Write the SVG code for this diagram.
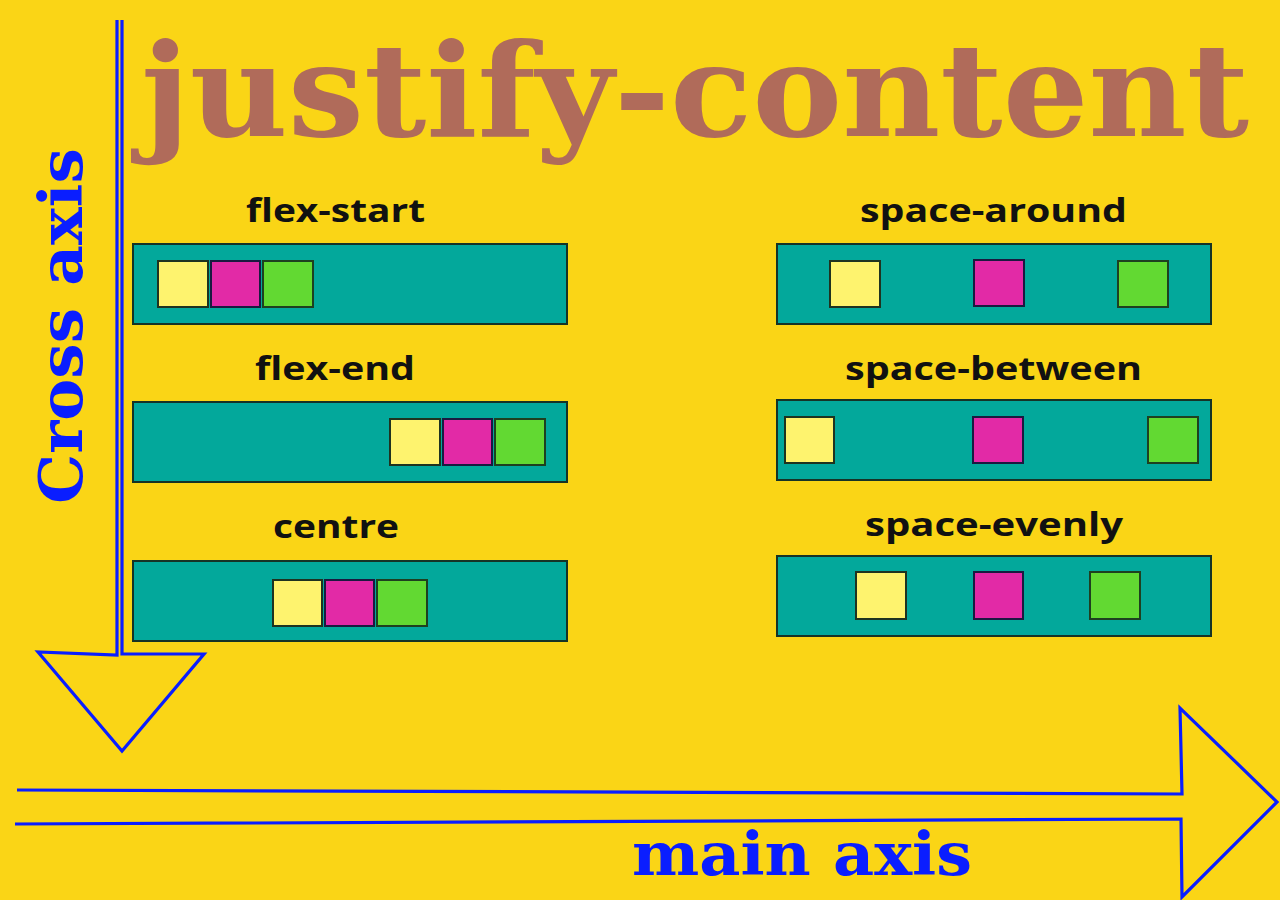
<svg xmlns="http://www.w3.org/2000/svg" width="1280" height="900" viewBox="0 0 1280 900">
  <style>
    .bg { fill: #FAD516; }
    .title { font-family: "DejaVu Serif", "Liberation Serif", serif; font-weight: bold; fill: #B06B5A; }
    .axis { font-family: "DejaVu Serif", "Liberation Serif", serif; font-weight: bold; fill: #0A1EFF; }
    .label { font-family: "Open Sans", "Liberation Sans", sans-serif; font-weight: bold; fill: #111111; font-size: 32px; }
    .box { fill: #03A89B; stroke: #163326; stroke-width: 2; }
    .y { fill: #FEF36E; stroke: #1E3320; stroke-width: 2; }
    .p { fill: #E22AA6; stroke: #1A1A40; stroke-width: 2; }
    .g { fill: #62D932; stroke: #1E4020; stroke-width: 2; }
    .arrow { fill: none; stroke: #0A1EFF; stroke-width: 3.2; stroke-linejoin: miter; }
  </style>
  <rect class="bg" x="0" y="0" width="1280" height="900"/>

  <g id="title">
    <text class="title" x="141" y="136" font-size="130" textLength="1108" lengthAdjust="spacingAndGlyphs">justify-content</text>
  </g>

  <g id="connectors">
    <path class="arrow" d="M117,20 L117,655 L38,652 L122,751 L204,654 L122,654 L122,20"/>
    <path class="arrow" d="M17,790 L1182,794 L1180,708 L1277,802 L1182,897 L1181,819 L15,824"/>
  </g>

  <g id="cross-axis-label">
    <text class="axis" transform="translate(82,504) rotate(-90)" x="0" y="0" font-size="60" textLength="356" lengthAdjust="spacingAndGlyphs">Cross axis</text>
  </g>
  <g id="main-axis-label">
    <text class="axis" x="632" y="875" font-size="60" textLength="340" lengthAdjust="spacingAndGlyphs">main axis</text>
  </g>

  <g id="flex-start">
    <text class="label" x="246" y="222" textLength="179" lengthAdjust="spacingAndGlyphs">flex-start</text>
    <rect class="box" x="133" y="244" width="434" height="80"/>
    <rect class="y" x="158" y="261" width="50" height="46"/>
    <rect class="p" x="211" y="261" width="49" height="46"/>
    <rect class="g" x="263" y="261" width="50" height="46"/>
  </g>

  <g id="flex-end">
    <text class="label" x="255" y="380" textLength="160" lengthAdjust="spacingAndGlyphs">flex-end</text>
    <rect class="box" x="133" y="402" width="434" height="80"/>
    <rect class="y" x="390" y="419" width="50" height="46"/>
    <rect class="p" x="443" y="419" width="49" height="46"/>
    <rect class="g" x="495" y="419" width="50" height="46"/>
  </g>

  <g id="centre">
    <text class="label" x="273" y="538" textLength="126" lengthAdjust="spacingAndGlyphs">centre</text>
    <rect class="box" x="133" y="561" width="434" height="80"/>
    <rect class="y" x="273" y="580" width="49" height="46"/>
    <rect class="p" x="325" y="580" width="49" height="46"/>
    <rect class="g" x="377" y="580" width="50" height="46"/>
  </g>

  <g id="space-around">
    <text class="label" x="860" y="222" textLength="267" lengthAdjust="spacingAndGlyphs">space-around</text>
    <rect class="box" x="777" y="244" width="434" height="80"/>
    <rect class="y" x="830" y="261" width="50" height="46"/>
    <rect class="p" x="974" y="260" width="50" height="46"/>
    <rect class="g" x="1118" y="261" width="50" height="46"/>
  </g>

  <g id="space-between">
    <text class="label" x="845" y="380" textLength="297" lengthAdjust="spacingAndGlyphs">space-between</text>
    <rect class="box" x="777" y="400" width="434" height="80"/>
    <rect class="y" x="785" y="417" width="49" height="46"/>
    <rect class="p" x="973" y="417" width="50" height="46"/>
    <rect class="g" x="1148" y="417" width="50" height="46"/>
  </g>

  <g id="space-evenly">
    <text class="label" x="865" y="536" textLength="258" lengthAdjust="spacingAndGlyphs">space-evenly</text>
    <rect class="box" x="777" y="556" width="434" height="80"/>
    <rect class="y" x="856" y="572" width="50" height="47"/>
    <rect class="p" x="974" y="572" width="49" height="47"/>
    <rect class="g" x="1090" y="572" width="50" height="47"/>
  </g>
</svg>
